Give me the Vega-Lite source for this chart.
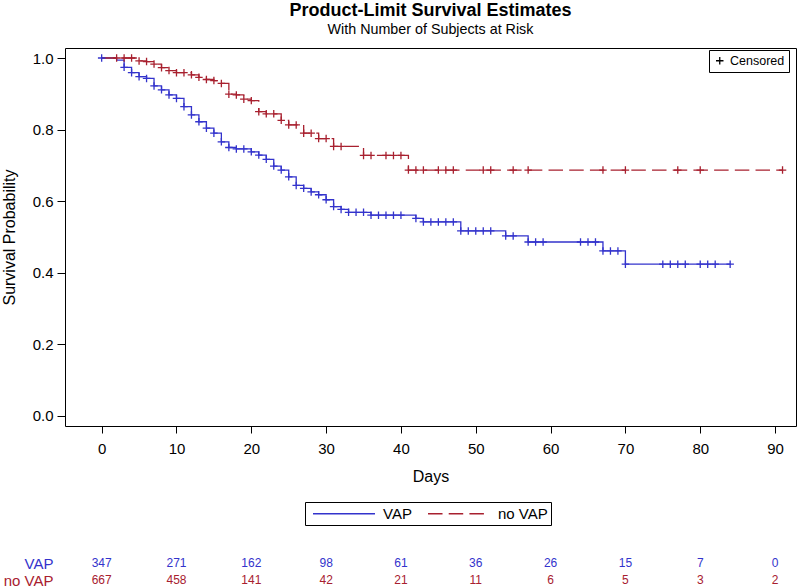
{
  "$schema": "https://vega.github.io/schema/vega-lite/v6.json",
  "autosize": "none",
  "padding": {"left": 65, "top": 48, "right": 734, "bottom": 538},
  "background": "white",
  "bounds": "flush",
  "spacing": 128.5,
  "config": {"font": "Liberation Sans", "view": {"stroke": null}},
  "datasets": {
    "km": [
      {"group": "VAP", "day": 0, "surv": 1.0, "censored": 1},
      {"group": "VAP", "day": 2, "surv": 0.994, "censored": 0},
      {"group": "VAP", "day": 3, "surv": 0.974, "censored": 1},
      {"group": "VAP", "day": 4, "surv": 0.959, "censored": 1},
      {"group": "VAP", "day": 5, "surv": 0.948, "censored": 1},
      {"group": "VAP", "day": 6, "surv": 0.943, "censored": 1},
      {"group": "VAP", "day": 7, "surv": 0.922, "censored": 1},
      {"group": "VAP", "day": 8, "surv": 0.911, "censored": 1},
      {"group": "VAP", "day": 9, "surv": 0.897, "censored": 1},
      {"group": "VAP", "day": 10, "surv": 0.887, "censored": 1},
      {"group": "VAP", "day": 11, "surv": 0.864, "censored": 1},
      {"group": "VAP", "day": 12, "surv": 0.841, "censored": 1},
      {"group": "VAP", "day": 13, "surv": 0.822, "censored": 1},
      {"group": "VAP", "day": 14, "surv": 0.804, "censored": 1},
      {"group": "VAP", "day": 15, "surv": 0.79, "censored": 1},
      {"group": "VAP", "day": 16, "surv": 0.766, "censored": 1},
      {"group": "VAP", "day": 17, "surv": 0.75, "censored": 1},
      {"group": "VAP", "day": 18, "surv": 0.746, "censored": 1},
      {"group": "VAP", "day": 19, "surv": 0.746, "censored": 1},
      {"group": "VAP", "day": 20, "surv": 0.738, "censored": 1},
      {"group": "VAP", "day": 21, "surv": 0.729, "censored": 1},
      {"group": "VAP", "day": 22, "surv": 0.717, "censored": 1},
      {"group": "VAP", "day": 23, "surv": 0.698, "censored": 1},
      {"group": "VAP", "day": 24, "surv": 0.687, "censored": 1},
      {"group": "VAP", "day": 25, "surv": 0.668, "censored": 1},
      {"group": "VAP", "day": 26, "surv": 0.644, "censored": 1},
      {"group": "VAP", "day": 27, "surv": 0.636, "censored": 1},
      {"group": "VAP", "day": 28, "surv": 0.626, "censored": 1},
      {"group": "VAP", "day": 29, "surv": 0.618, "censored": 1},
      {"group": "VAP", "day": 30, "surv": 0.604, "censored": 1},
      {"group": "VAP", "day": 31, "surv": 0.585, "censored": 1},
      {"group": "VAP", "day": 32, "surv": 0.577, "censored": 1},
      {"group": "VAP", "day": 33, "surv": 0.569, "censored": 1},
      {"group": "VAP", "day": 34, "surv": 0.569, "censored": 1},
      {"group": "VAP", "day": 35, "surv": 0.569, "censored": 1},
      {"group": "VAP", "day": 36, "surv": 0.561, "censored": 1},
      {"group": "VAP", "day": 37, "surv": 0.561, "censored": 1},
      {"group": "VAP", "day": 38, "surv": 0.561, "censored": 1},
      {"group": "VAP", "day": 39, "surv": 0.561, "censored": 1},
      {"group": "VAP", "day": 40, "surv": 0.561, "censored": 1},
      {"group": "VAP", "day": 42, "surv": 0.552, "censored": 1},
      {"group": "VAP", "day": 43, "surv": 0.542, "censored": 1},
      {"group": "VAP", "day": 44, "surv": 0.542, "censored": 1},
      {"group": "VAP", "day": 45, "surv": 0.542, "censored": 1},
      {"group": "VAP", "day": 46, "surv": 0.542, "censored": 1},
      {"group": "VAP", "day": 47, "surv": 0.542, "censored": 1},
      {"group": "VAP", "day": 48, "surv": 0.517, "censored": 1},
      {"group": "VAP", "day": 49, "surv": 0.517, "censored": 1},
      {"group": "VAP", "day": 50, "surv": 0.517, "censored": 1},
      {"group": "VAP", "day": 51, "surv": 0.517, "censored": 1},
      {"group": "VAP", "day": 52, "surv": 0.517, "censored": 1},
      {"group": "VAP", "day": 54, "surv": 0.503, "censored": 1},
      {"group": "VAP", "day": 55, "surv": 0.503, "censored": 1},
      {"group": "VAP", "day": 57, "surv": 0.486, "censored": 1},
      {"group": "VAP", "day": 58, "surv": 0.486, "censored": 1},
      {"group": "VAP", "day": 59, "surv": 0.486, "censored": 1},
      {"group": "VAP", "day": 64, "surv": 0.486, "censored": 1},
      {"group": "VAP", "day": 65, "surv": 0.486, "censored": 1},
      {"group": "VAP", "day": 66, "surv": 0.486, "censored": 1},
      {"group": "VAP", "day": 67, "surv": 0.461, "censored": 1},
      {"group": "VAP", "day": 68, "surv": 0.461, "censored": 1},
      {"group": "VAP", "day": 69, "surv": 0.461, "censored": 1},
      {"group": "VAP", "day": 70, "surv": 0.424, "censored": 1},
      {"group": "VAP", "day": 75, "surv": 0.424, "censored": 1},
      {"group": "VAP", "day": 76, "surv": 0.424, "censored": 1},
      {"group": "VAP", "day": 77, "surv": 0.424, "censored": 1},
      {"group": "VAP", "day": 78, "surv": 0.424, "censored": 1},
      {"group": "VAP", "day": 80, "surv": 0.424, "censored": 1},
      {"group": "VAP", "day": 81, "surv": 0.424, "censored": 1},
      {"group": "VAP", "day": 82, "surv": 0.424, "censored": 1},
      {"group": "VAP", "day": 84, "surv": 0.424, "censored": 1},
      {"group": "no VAP", "day": 0, "surv": 1.0, "censored": 0},
      {"group": "no VAP", "day": 2, "surv": 1.0, "censored": 1},
      {"group": "no VAP", "day": 3, "surv": 1.0, "censored": 1},
      {"group": "no VAP", "day": 4, "surv": 1.0, "censored": 1},
      {"group": "no VAP", "day": 5, "surv": 0.992, "censored": 1},
      {"group": "no VAP", "day": 6, "surv": 0.99, "censored": 1},
      {"group": "no VAP", "day": 7, "surv": 0.983, "censored": 1},
      {"group": "no VAP", "day": 8, "surv": 0.973, "censored": 1},
      {"group": "no VAP", "day": 9, "surv": 0.965, "censored": 1},
      {"group": "no VAP", "day": 10, "surv": 0.959, "censored": 1},
      {"group": "no VAP", "day": 11, "surv": 0.959, "censored": 1},
      {"group": "no VAP", "day": 12, "surv": 0.953, "censored": 1},
      {"group": "no VAP", "day": 13, "surv": 0.946, "censored": 1},
      {"group": "no VAP", "day": 14, "surv": 0.94, "censored": 1},
      {"group": "no VAP", "day": 15, "surv": 0.937, "censored": 1},
      {"group": "no VAP", "day": 16, "surv": 0.929, "censored": 1},
      {"group": "no VAP", "day": 17, "surv": 0.899, "censored": 1},
      {"group": "no VAP", "day": 18, "surv": 0.897, "censored": 1},
      {"group": "no VAP", "day": 19, "surv": 0.885, "censored": 1},
      {"group": "no VAP", "day": 20, "surv": 0.881, "censored": 1},
      {"group": "no VAP", "day": 21, "surv": 0.85, "censored": 1},
      {"group": "no VAP", "day": 22, "surv": 0.844, "censored": 1},
      {"group": "no VAP", "day": 23, "surv": 0.844, "censored": 1},
      {"group": "no VAP", "day": 24, "surv": 0.826, "censored": 1},
      {"group": "no VAP", "day": 25, "surv": 0.813, "censored": 1},
      {"group": "no VAP", "day": 26, "surv": 0.813, "censored": 1},
      {"group": "no VAP", "day": 27, "surv": 0.79, "censored": 1},
      {"group": "no VAP", "day": 28, "surv": 0.79, "censored": 1},
      {"group": "no VAP", "day": 29, "surv": 0.775, "censored": 1},
      {"group": "no VAP", "day": 30, "surv": 0.775, "censored": 1},
      {"group": "no VAP", "day": 31, "surv": 0.753, "censored": 1},
      {"group": "no VAP", "day": 32, "surv": 0.753, "censored": 1},
      {"group": "no VAP", "day": 35, "surv": 0.728, "censored": 1},
      {"group": "no VAP", "day": 36, "surv": 0.728, "censored": 1},
      {"group": "no VAP", "day": 38, "surv": 0.728, "censored": 1},
      {"group": "no VAP", "day": 39, "surv": 0.728, "censored": 1},
      {"group": "no VAP", "day": 40, "surv": 0.728, "censored": 1},
      {"group": "no VAP", "day": 41, "surv": 0.687, "censored": 1},
      {"group": "no VAP", "day": 42, "surv": 0.687, "censored": 1},
      {"group": "no VAP", "day": 43, "surv": 0.687, "censored": 1},
      {"group": "no VAP", "day": 45, "surv": 0.687, "censored": 1},
      {"group": "no VAP", "day": 46, "surv": 0.687, "censored": 1},
      {"group": "no VAP", "day": 47, "surv": 0.687, "censored": 1},
      {"group": "no VAP", "day": 51, "surv": 0.687, "censored": 1},
      {"group": "no VAP", "day": 52, "surv": 0.687, "censored": 1},
      {"group": "no VAP", "day": 55, "surv": 0.687, "censored": 1},
      {"group": "no VAP", "day": 57, "surv": 0.687, "censored": 1},
      {"group": "no VAP", "day": 67, "surv": 0.687, "censored": 1},
      {"group": "no VAP", "day": 70, "surv": 0.687, "censored": 1},
      {"group": "no VAP", "day": 77, "surv": 0.687, "censored": 1},
      {"group": "no VAP", "day": 80, "surv": 0.687, "censored": 1},
      {"group": "no VAP", "day": 91, "surv": 0.687, "censored": 1}
    ],
    "risk": [
      {"group": "VAP", "day": 0, "n": 347},
      {"group": "VAP", "day": 10, "n": 271},
      {"group": "VAP", "day": 20, "n": 162},
      {"group": "VAP", "day": 30, "n": 98},
      {"group": "VAP", "day": 40, "n": 61},
      {"group": "VAP", "day": 50, "n": 36},
      {"group": "VAP", "day": 60, "n": 26},
      {"group": "VAP", "day": 70, "n": 15},
      {"group": "VAP", "day": 80, "n": 7},
      {"group": "VAP", "day": 90, "n": 0},
      {"group": "no VAP", "day": 0, "n": 667},
      {"group": "no VAP", "day": 10, "n": 458},
      {"group": "no VAP", "day": 20, "n": 141},
      {"group": "no VAP", "day": 30, "n": 42},
      {"group": "no VAP", "day": 40, "n": 21},
      {"group": "no VAP", "day": 50, "n": 11},
      {"group": "no VAP", "day": 60, "n": 6},
      {"group": "no VAP", "day": 70, "n": 5},
      {"group": "no VAP", "day": 80, "n": 3},
      {"group": "no VAP", "day": 90, "n": 2}
    ]
  },
  "vconcat": [
    {
      "width": 731,
      "height": 378,
      "title": {
        "text": "Product-Limit Survival Estimates",
        "subtitle": "With Number of Subjects at Risk",
        "fontSize": 18,
        "fontWeight": "bold",
        "subtitleFontSize": 14.3,
        "subtitlePadding": 3,
        "anchor": "middle",
        "frame": "group",
        "offset": 11,
        "color": "black",
        "subtitleColor": "black"
      },
      "view": {"stroke": "black", "strokeWidth": 1},
      "data": {"name": "km"},
      "layer": [
        {
          "mark": {"type": "line", "interpolate": "step-after", "strokeWidth": 1.3},
          "encoding": {
            "x": {
              "field": "day",
              "type": "quantitative",
              "scale": {"domain": [-4.9, 92.8], "nice": false, "zero": false},
              "axis": {
                "values": [0, 10, 20, 30, 40, 50, 60, 70, 80, 90],
                "title": "Days",
                "titleFontSize": 16,
                "titleFontWeight": "normal",
                "titleColor": "black",
                "titlePadding": 12,
                "labelFontSize": 15,
                "labelColor": "black",
                "labelPadding": 8,
                "labelFlush": false,
                "tickSize": 7,
                "tickColor": "black",
                "domain": false,
                "grid": false
              }
            },
            "y": {
              "field": "surv",
              "type": "quantitative",
              "scale": {"domain": [-0.028, 1.028], "nice": false, "zero": false},
              "axis": {
                "values": [0, 0.2, 0.4, 0.6, 0.8, 1],
                "format": ".1f",
                "title": "Survival Probability",
                "titleFontSize": 16,
                "titleFontWeight": "normal",
                "titleColor": "black",
                "titlePadding": 15,
                "labelFontSize": 15,
                "labelColor": "black",
                "labelPadding": 4,
                "tickSize": 8,
                "tickColor": "black",
                "domain": false,
                "grid": false
              }
            },
            "color": {
              "field": "group",
              "type": "nominal",
              "scale": {"domain": ["VAP", "no VAP"], "range": ["#3333cc", "#a8202f"]},
              "legend": {
                "title": null,
                "orient": "none",
                "legendX": 240,
                "legendY": 454,
                "direction": "horizontal",
                "strokeColor": "black",
                "padding": 3,
                "symbolType": "M-4,0H4",
                "symbolSize": 240,
                "symbolStrokeWidth": 1.3,
                "symbolOffset": 27.5,
                "labelFontSize": 15,
                "labelColor": "black",
                "labelOffset": 30.5,
                "columnPadding": 11
              }
            },
            "strokeDash": {
              "field": "group",
              "type": "nominal",
              "scale": {"domain": ["VAP", "no VAP"], "range": [[1, 0], [14.5, 6.2]]}
            },
            "order": {"field": "day", "type": "quantitative"}
          }
        },
        {
          "transform": [{"filter": "datum.censored == 1"}],
          "mark": {"type": "point", "filled": false, "strokeWidth": 1.3, "size": 56, "opacity": 1},
          "encoding": {
            "x": {"field": "day", "type": "quantitative"},
            "y": {"field": "surv", "type": "quantitative"},
            "color": {"field": "group", "type": "nominal", "legend": null},
            "shape": {
              "datum": "Censored",
              "scale": {"domain": ["Censored"], "range": ["M-1,0H1M0,-1V1"]},
              "legend": {
                "title": null,
                "orient": "none",
                "legendX": 644,
                "legendY": 2,
                "strokeColor": "black",
                "padding": 4.5,
                "symbolStrokeColor": "black",
                "symbolFillColor": "transparent",
                "symbolSize": 56,
                "symbolStrokeWidth": 1.3,
                "labelFontSize": 12.5,
                "labelColor": "black",
                "labelOffset": 4
              }
            }
          }
        }
      ]
    },
    {
      "width": 731,
      "height": 34,
      "data": {"name": "risk"},
      "mark": {"type": "text", "fontSize": 12},
      "encoding": {
        "x": {
          "field": "day",
          "type": "quantitative",
          "scale": {"domain": [-4.9, 92.8], "nice": false, "zero": false},
          "axis": null
        },
        "y": {
          "field": "group",
          "type": "nominal",
          "sort": ["VAP", "no VAP"],
          "axis": {
            "title": null,
            "domain": false,
            "ticks": false,
            "labelPadding": 12,
            "labelFontSize": 15,
            "labelColor": {"condition": {"test": "datum.value === 'VAP'", "value": "#3333cc"}, "value": "#a8202f"}
          }
        },
        "text": {"field": "n", "type": "quantitative"},
        "color": {"condition": {"test": "datum.group === 'VAP'", "value": "#3333cc"}, "value": "#a8202f"}
      }
    }
  ]
}
